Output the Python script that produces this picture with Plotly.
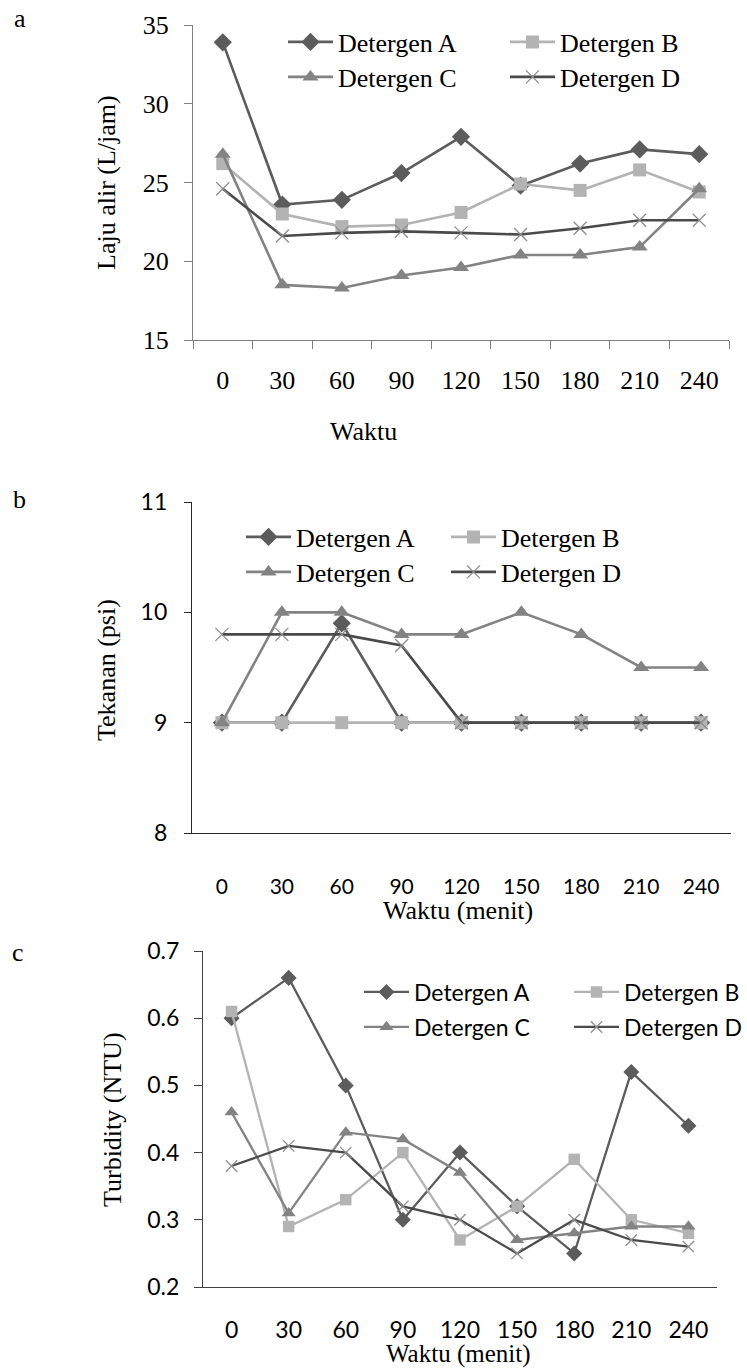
import plotly.graph_objects as go

W, H = 747, 1371

waktu = ["0", "30", "60", "90", "120", "150", "180", "210", "240"]
seri = ["Detergen A", "Detergen B", "Detergen C", "Detergen D"]

# panel a: Laju alir (L/jam)
laju_A = [33.9, 23.6, 23.9, 25.6, 27.9, 24.8, 26.2, 27.1, 26.8]
laju_B = [26.2, 23.0, 22.2, 22.3, 23.1, 24.9, 24.5, 25.8, 24.4]
laju_C = [26.8, 18.5, 18.3, 19.1, 19.6, 20.4, 20.4, 20.9, 24.6]
laju_D = [24.6, 21.6, 21.8, 21.9, 21.8, 21.7, 22.1, 22.6, 22.6]

# panel b: Tekanan (psi)
tek_A = [9, 9, 9.9, 9, 9, 9, 9, 9, 9]
tek_B = [9, 9, 9, 9, 9, 9, 9, 9, 9]
tek_C = [9, 10, 10, 9.8, 9.8, 10, 9.8, 9.5, 9.5]
tek_D = [9.8, 9.8, 9.8, 9.7, 9, 9, 9, 9, 9]

# panel c: Turbidity (NTU)
tur_A = [0.60, 0.66, 0.50, 0.30, 0.40, 0.32, 0.25, 0.52, 0.44]
tur_B = [0.61, 0.29, 0.33, 0.40, 0.27, 0.32, 0.39, 0.30, 0.28]
tur_C = [0.46, 0.31, 0.43, 0.42, 0.37, 0.27, 0.28, 0.29, 0.29]
tur_D = [0.38, 0.41, 0.40, 0.32, 0.30, 0.25, 0.30, 0.27, 0.26]

SERIF = "Liberation Serif, Times New Roman, serif"
SANS = "Lato, Carlito, Calibri, sans-serif"

STYLE = {
    "Detergen A": dict(color="#5c5c5c", symbol="diamond", size=14),
    "Detergen B": dict(color="#b3b3b3", symbol="square", size=13),
    "Detergen C": dict(color="#838383", symbol="triangle-up", size=14),
    "Detergen D": dict(color="#4a4a4a", symbol="x-thin", size=13),
}


def xdom(l, r):
    return [l / W, r / W]


def ydom(top, bot):
    return [1 - bot / H, 1 - top / H]


fig = go.Figure()

panels = [
    ("x", "y", [laju_A, laju_B, laju_C, laju_D], ("legend", "legend2"), 2.6, 1.0),
    ("x2", "y2", [tek_A, tek_B, tek_C, tek_D], ("legend3", "legend4"), 2.6, 1.0),
    ("x3", "y3", [tur_A, tur_B, tur_C, tur_D], ("legend5", "legend6"), 2.3, 0.88),
]

for xa, ya, series, legs, lw, msc in panels:
    for i, (name, vals) in enumerate(zip(seri, series)):
        st = STYLE[name]
        if st["symbol"] == "x-thin":
            marker = dict(symbol="x-thin", size=st["size"] * msc,
                          line=dict(width=1.3, color="#8e8e8e"))
        else:
            marker = dict(symbol=st["symbol"], size=st["size"] * msc,
                          color=st["color"], line=dict(width=0))
        fig.add_trace(go.Scatter(
            x=waktu, y=vals, name=name, mode="lines+markers",
            line=dict(color=st["color"], width=lw),
            marker=marker, xaxis=xa, yaxis=ya,
            legend=legs[0] if i < 2 else legs[1],
        ))

axcol_a = "#808080"
axcol_b = "#262626"
axcol_c = "#404040"

common_x = dict(type="category", range=[-0.5, 8.5], showgrid=False,
                zeroline=False, showline=True, fixedrange=True)
common_y = dict(showgrid=False, zeroline=False, showline=True,
                ticks="outside", fixedrange=True)

fig.update_layout(
    width=W, height=H,
    margin=dict(l=0, r=0, t=0, b=0, autoexpand=False),
    paper_bgcolor="white", plot_bgcolor="white",
    showlegend=True,
    xaxis=dict(**common_x, domain=xdom(193, 729), anchor="y",
               linecolor=axcol_a, linewidth=1.2,
               ticks="outside", tickson="boundaries", ticklen=8, tickcolor=axcol_a,
               tickfont=dict(family=SERIF, size=26, color="black"),
               ticklabelstandoff=17),
    yaxis=dict(**common_y, domain=ydom(25, 340), anchor="x", range=[15, 35],
               dtick=5, linecolor=axcol_a, linewidth=1.2, ticklen=8,
               tickcolor=axcol_a,
               tickfont=dict(family=SERIF, size=26, color="black"),
               ticklabelstandoff=10),
    xaxis2=dict(**common_x, domain=xdom(192, 731), anchor="y2",
                linecolor=axcol_b, linewidth=1.3, ticks="",
                tickfont=dict(family=SANS, size=21, color="black"),
                ticklabelstandoff=35),
    yaxis2=dict(**common_y, domain=ydom(502, 833), anchor="x2", range=[8, 11],
                dtick=1, linecolor=axcol_b, linewidth=1.3, ticklen=7,
                tickcolor=axcol_b,
                tickfont=dict(family=SANS, size=23, color="black"),
                ticklabelstandoff=12),
    xaxis3=dict(**common_x, domain=xdom(203, 717), anchor="y3",
                linecolor=axcol_c, linewidth=1.3, ticks="",
                tickfont=dict(family=SANS, size=23, color="black"),
                ticklabelstandoff=22),
    yaxis3=dict(**common_y, domain=ydom(951, 1287), anchor="x3", range=[0.2, 0.7],
                dtick=0.1, tickformat=".1f", linecolor=axcol_c, linewidth=1.3,
                ticklen=8, tickcolor=axcol_c,
                tickfont=dict(family=SANS, size=23, color="black"),
                ticklabelstandoff=10),
)

# legends: two rows per panel
def leg(x_px, y_px, fam, size, ew):
    return dict(orientation="h", x=x_px / W, y=1 - y_px / H,
                xanchor="left", yanchor="middle",
                bgcolor="rgba(0,0,0,0)", borderwidth=0,
                font=dict(family=fam, size=size, color="black"),
                entrywidth=ew, entrywidthmode="pixels", itemwidth=45,
                tracegroupgap=0)

fig.update_layout(
    legend=leg(283, 42, SERIF, 26, 162),
    legend2=leg(283, 77, SERIF, 26, 162),
    legend3=leg(241, 537, SERIF, 26, 145),
    legend4=leg(241, 572, SERIF, 26, 145),
    legend5=leg(359, 992, SANS, 23, 150),
    legend6=leg(359, 1027, SANS, 23, 150),
)

anns = [
    dict(text="a", x=20, y=18, size=26, angle=0),
    dict(text="b", x=19, y=499, size=26, angle=0),
    dict(text="c", x=18, y=952, size=26, angle=0),
    dict(text="Laju alir (L/jam)", x=107, y=183, size=26, angle=-90),
    dict(text="Tekanan (psi)", x=106, y=670, size=26, angle=-90),
    dict(text="Turbidity (NTU)", x=112, y=1120, size=26, angle=-90),
    dict(text="Waktu", x=363, y=431, size=26, angle=0),
    dict(text="Waktu (menit)", x=458, y=910, size=26, angle=0),
    dict(text="Waktu (menit)", x=458, y=1354, size=25, angle=0),
]
for a in anns:
    fig.add_annotation(text=a["text"], x=a["x"] / W, y=1 - a["y"] / H,
                       xref="paper", yref="paper", xanchor="center",
                       yanchor="middle", showarrow=False, textangle=a["angle"],
                       font=dict(family=SERIF, size=a["size"], color="black"))

fig.write_html("out.html")
